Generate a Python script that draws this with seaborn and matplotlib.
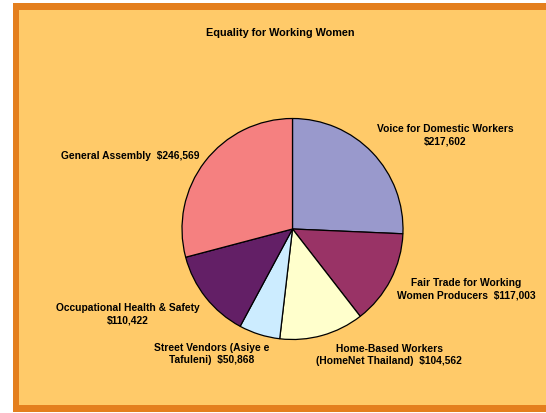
import matplotlib
matplotlib.use("Agg")
import matplotlib.pyplot as plt
from matplotlib.patches import Rectangle
import seaborn as sns

# data, clockwise from 12 o'clock
categories = [
    "Voice for Domestic Workers\n$217,602",
    "Fair Trade for Working\nWomen Producers  $117,003",
    "Home-Based Workers\n(HomeNet Thailand)  $104,562",
    "Street Vendors (Asiye e\nTafuleni)  $50,868",
    "Occupational Health & Safety\n$110,422",
    "General Assembly  $246,569",
]
amounts = [217602, 117003, 104562, 50868, 110422, 246569]
title = "Equality for Working Women"

colors = ["#9999CC", "#993366", "#FFFFCC", "#CCECFF", "#631F66", "#F58080"]
# label centres in pixels (x, y from top)
label_pos = [(445, 135), (466, 289), (389, 355), (212, 354), (128, 314), (130, 156)]

W, H = 546, 413

sns.set_theme(style="white")
plt.rcParams["font.family"] = ["Liberation Sans", "DejaVu Sans"]

fig = plt.figure(figsize=(W / 100, H / 100), dpi=100)
fig.patch.set_facecolor("white")
ax = fig.add_axes([0, 0, 1, 1])

# orange frame and chart area
ax.add_patch(Rectangle((13, H - 412), W, 409, facecolor="#E47F1E", edgecolor="none", zorder=0))
ax.add_patch(Rectangle((19, H - 405), W, 395, facecolor="#FFCA69", edgecolor="none", zorder=0))

wedges, _ = ax.pie(amounts, colors=sns.color_palette(colors), startangle=90, counterclock=False,
                   center=(292.5, H - 229), radius=110.5,
                   wedgeprops=dict(edgecolor="black", linewidth=0.9), frame=True)
ax.set_xlim(0, W)
ax.set_ylim(0, H)
ax.set_aspect("equal")
ax.axis("off")

for lab, (x, y) in zip(categories, label_pos):
    ax.text(x, H - y, lab, ha="center", va="center", fontsize=7.4, fontweight="bold",
            color="black", linespacing=1.3)

ax.text(280, H - 33, title, ha="center", va="center", fontsize=7.8, fontweight="bold", color="black")

fig.savefig("out.png", dpi=100)
